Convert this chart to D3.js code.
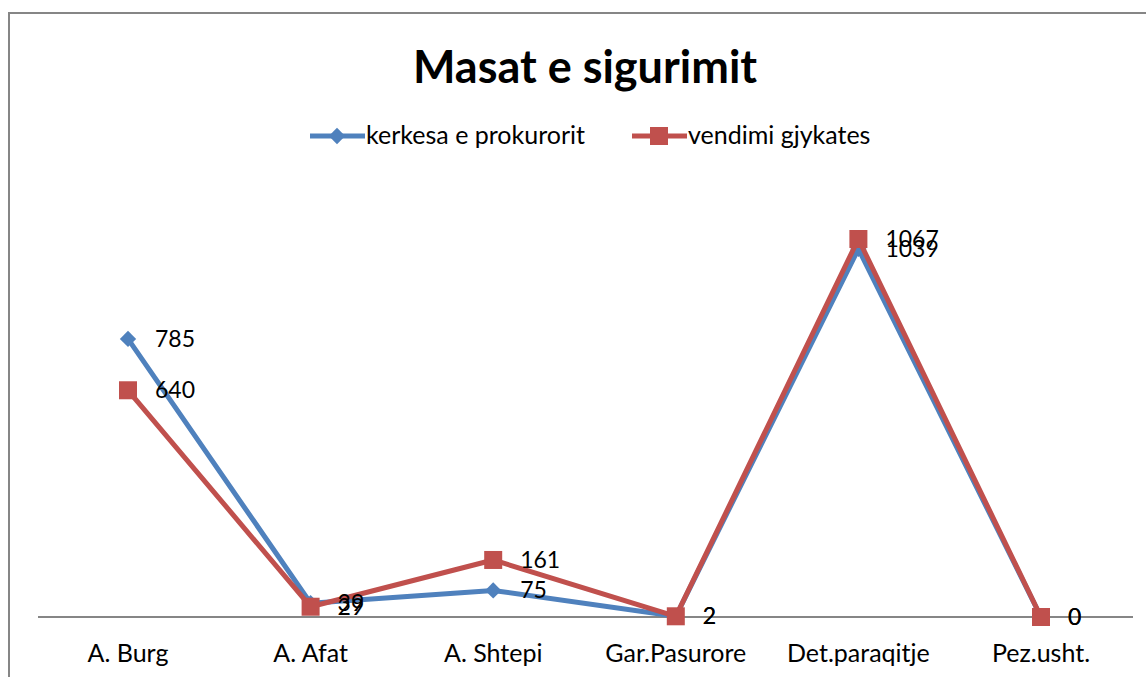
<!DOCTYPE html>
<html>
<head>
<meta charset="utf-8">
<script src="https://cdn.jsdelivr.net/npm/d3@7"></script>
<style>
  body { margin: 0; background: #fff; }
  svg { display: block; font-family: Lato, "Open Sans", sans-serif; }
</style>
</head>
<body>
<svg id="chart" width="1146" height="677"></svg>
<script>
// --- Datos ---
const categories = ['A. Burg', 'A. Afat', 'A. Shtepi', 'Gar.Pasurore', 'Det.paraqitje', 'Pez.usht.'];
const kerkesa = [785, 39, 75, 2, 1039, 0];
const vendimi = [640, 29, 161, 2, 1067, 0];
const seriesNames = ['kerkesa e prokurorit', 'vendimi gjykates'];
const seriesColors = ['#4F81BD', '#C0504D'];

const svg = d3.select('#chart');

// marco del gráfico
svg.append('rect')
  .attr('x', 9).attr('y', 13)
  .attr('width', 1160).attr('height', 700)
  .attr('fill', 'none')
  .attr('stroke', '#868686')
  .attr('stroke-width', 2);

// título
svg.append('text')
  .attr('x', 585).attr('y', 83)
  .attr('text-anchor', 'middle')
  .attr('font-size', 45)
  .attr('font-weight', 'bold')
  .attr('fill', '#000')
  .text('Masat e sigurimit');

// --- Escalas ---
const x = d3.scalePoint()
  .domain(categories)
  .range([128, 1041]);

const y = d3.scaleLinear()
  .domain([0, 1067])
  .range([617, 239]);

// eje X
svg.append('line')
  .attr('x1', 38).attr('x2', 1133)
  .attr('y1', y(0)).attr('y2', y(0))
  .attr('stroke', '#868686')
  .attr('stroke-width', 2);

svg.append('g')
  .selectAll('text')
  .data(categories)
  .enter().append('text')
  .attr('x', d => x(d))
  .attr('y', 662)
  .attr('text-anchor', 'middle')
  .attr('font-size', 25)
  .attr('fill', '#000')
  .text(d => d);

const line = d3.line()
  .x((d, i) => x(categories[i]))
  .y(d => y(d));

const series = [kerkesa, vendimi];

series.forEach((vals, si) => {
  const g = svg.append('g');
  g.append('path')
    .datum(vals)
    .attr('d', line)
    .attr('fill', 'none')
    .attr('stroke', seriesColors[si])
    .attr('stroke-width', 5)
    .attr('stroke-linejoin', 'round');

  if (si === 0) {
    g.selectAll('path.m')
      .data(vals)
      .enter().append('path')
      .attr('class', 'm')
      .attr('d', d3.symbol().type(d3.symbolDiamond2).size(170))
      .attr('transform', (d, i) => `translate(${x(categories[i])},${y(d)})`)
      .attr('fill', seriesColors[si]);
  } else {
    g.selectAll('rect.m')
      .data(vals)
      .enter().append('rect')
      .attr('class', 'm')
      .attr('x', (d, i) => x(categories[i]) - 9)
      .attr('y', d => y(d) - 9)
      .attr('width', 18).attr('height', 18)
      .attr('fill', seriesColors[si]);
  }
});

// etiquetas de datos
series.forEach((vals, si) => {
  svg.append('g')
    .selectAll('text')
    .data(vals)
    .enter().append('text')
    .attr('x', (d, i) => x(categories[i]) + 27)
    .attr('y', d => y(d) + 8)
    .attr('font-size', 23)
    .attr('fill', '#000')
    .text(d => d);
});

// --- Leyenda ---
const legendX = [310, 632];
seriesNames.forEach((name, si) => {
  const lg = svg.append('g').attr('transform', `translate(${legendX[si]},136)`);
  lg.append('line')
    .attr('x1', 0).attr('x2', 55)
    .attr('stroke', seriesColors[si])
    .attr('stroke-width', 5);
  if (si === 0) {
    lg.append('path')
      .attr('d', d3.symbol().type(d3.symbolDiamond2).size(170))
      .attr('transform', 'translate(27,0)')
      .attr('fill', seriesColors[si]);
  } else {
    lg.append('rect')
      .attr('x', 18).attr('y', -9)
      .attr('width', 18).attr('height', 18)
      .attr('fill', seriesColors[si]);
  }
  lg.append('text')
    .attr('x', 56).attr('y', 8)
    .attr('font-size', 25)
    .attr('fill', '#000')
    .text(name);
});
</script>
</body>
</html>
